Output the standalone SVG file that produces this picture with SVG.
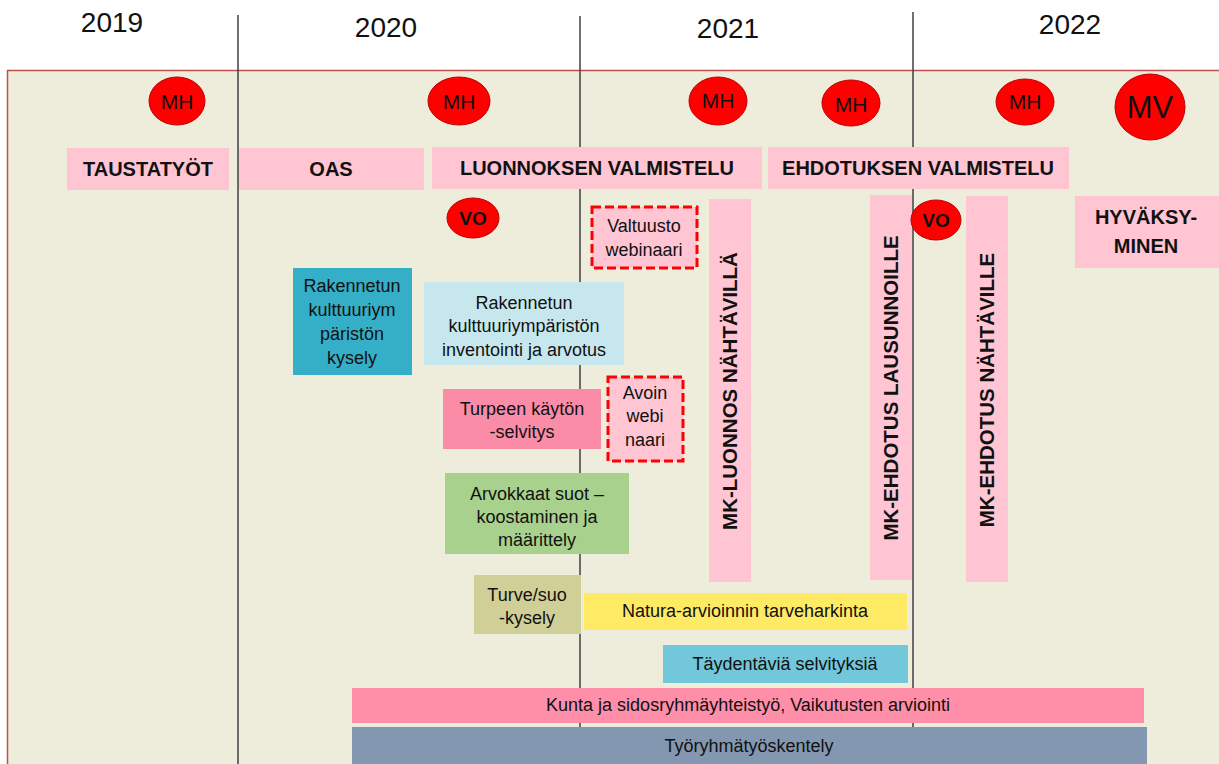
<svg xmlns="http://www.w3.org/2000/svg" width="1219" height="764" viewBox="0 0 1219 764">
<style>
.yr{font-family:"Liberation Sans",Arial,sans-serif;font-size:28px;fill:#111;text-anchor:middle}
.hd{font-family:"Liberation Sans",Arial,sans-serif;font-size:20px;font-weight:bold;fill:#111;text-anchor:middle}
.vt{font-family:"Liberation Sans",Arial,sans-serif;font-size:20.5px;font-weight:bold;fill:#111;text-anchor:middle}
.tx{font-family:"Liberation Sans",Arial,sans-serif;font-size:18px;fill:#111;text-anchor:middle}
.ci{font-family:"Liberation Sans",Arial,sans-serif;font-size:21px;fill:#111;text-anchor:middle}
.vo{font-family:"Liberation Sans",Arial,sans-serif;font-size:19px;font-weight:bold;fill:#111;text-anchor:middle}
.pink{fill:#ffc5d3}
.red{fill:#ff0000;stroke:#c00000;stroke-width:1}
.dash{fill:#ffc5d3;stroke:#ff0000;stroke-width:3;stroke-dasharray:9 4}
.yl{stroke:#404040;stroke-width:1.5}
</style>
<rect width="1219" height="764" fill="#ffffff"/>
<rect x="7.5" y="70.5" width="1220" height="710" fill="#eeecdb" stroke="#c0504d" stroke-width="1.5"/>
<g id="years">
<text class="yr" x="112" y="32">2019</text>
<text class="yr" x="386" y="37">2020</text>
<text class="yr" x="728" y="38">2021</text>
<text class="yr" x="1070" y="34">2022</text>
</g>
<g id="connectors">
<line class="yl" x1="238" y1="15" x2="238" y2="764"/>
<line class="yl" x1="580" y1="16" x2="580" y2="764"/>
<line class="yl" x1="913" y1="12" x2="913" y2="764"/>
</g>
<g id="mh1"><ellipse class="red" cx="177" cy="101" rx="28" ry="24"/><text class="ci" x="177" y="109">MH</text></g>
<g id="mh2"><ellipse class="red" cx="459" cy="101" rx="31" ry="24"/><text class="ci" x="459" y="109">MH</text></g>
<g id="mh3"><ellipse class="red" cx="718" cy="101" rx="29" ry="24"/><text class="ci" x="718" y="108">MH</text></g>
<g id="mh4"><ellipse class="red" cx="851" cy="103" rx="29" ry="23"/><text class="ci" x="851" y="112">MH</text></g>
<g id="mh5"><ellipse class="red" cx="1025" cy="102" rx="29" ry="23"/><text class="ci" x="1025" y="109">MH</text></g>
<g id="mv"><ellipse class="red" cx="1150" cy="107" rx="35" ry="33"/><text class="ci" x="1150" y="118" style="font-size:31px">MV</text></g>
<g id="taustatyot"><rect class="pink" x="67" y="148" width="162" height="42"/><text class="hd" x="148" y="176">TAUSTATYÖT</text></g>
<g id="oas"><rect class="pink" x="239" y="148" width="185" height="42"/><text class="hd" x="331" y="176">OAS</text></g>
<g id="luonnos"><rect class="pink" x="432" y="147" width="330" height="42"/><text class="hd" x="597" y="175">LUONNOKSEN VALMISTELU</text></g>
<g id="ehdotus"><rect class="pink" x="768" y="147" width="301" height="42"/><text class="hd" x="918" y="175">EHDOTUKSEN VALMISTELU</text></g>
<g id="hyvaksyminen"><rect class="pink" x="1075" y="196" width="150" height="72"/><text class="hd" x="1146" y="224">HYVÄKSY-</text><text class="hd" x="1146" y="253">MINEN</text></g>
<g id="vo1"><ellipse class="red" cx="473" cy="218" rx="26" ry="20"/><text class="vo" x="473" y="225">VO</text></g>
<g id="valtuusto"><rect class="dash" x="592" y="207" width="105" height="61"/><text class="tx" x="644" y="232">Valtuusto</text><text class="tx" x="644" y="256">webinaari</text></g>
<g id="mk-luonnos"><rect class="pink" x="709" y="199" width="42" height="383"/><text class="vt" transform="translate(737 391) rotate(-90)">MK-LUONNOS NÄHTÄVILLÄ</text></g>
<g id="mk-lausunnoille"><rect class="pink" x="870" y="195" width="42" height="385"/><text class="vt" transform="translate(898 388) rotate(-90)">MK-EHDOTUS LAUSUNNOILLE</text></g>
<g id="vo2"><ellipse class="red" cx="936" cy="220" rx="25" ry="20"/><text class="vo" x="936" y="227">VO</text></g>
<g id="mk-nahtaville"><rect class="pink" x="966" y="196" width="42" height="386"/><text class="vt" transform="translate(994 390) rotate(-90)">MK-EHDOTUS NÄHTÄVILLE</text></g>
<g id="kysely"><rect x="293" y="268" width="119" height="107" fill="#35afc7"/><text class="tx" x="352" y="292">Rakennetun</text><text class="tx" x="352" y="316">kulttuuriym</text><text class="tx" x="352" y="340">päristön</text><text class="tx" x="352" y="364">kysely</text></g>
<g id="inventointi"><rect x="424" y="282" width="200" height="83" fill="#c7e7ef"/><text class="tx" x="524" y="309">Rakennetun</text><text class="tx" x="524" y="332">kulttuuriympäristön</text><text class="tx" x="524" y="356">inventointi ja arvotus</text></g>
<g id="turpeen"><rect x="443" y="389" width="158" height="60" fill="#fb8ca8"/><text class="tx" x="522" y="415">Turpeen käytön</text><text class="tx" x="522" y="438">-selvitys</text></g>
<g id="avoin"><rect class="dash" x="608" y="377" width="75" height="84"/><text class="tx" x="645" y="399">Avoin</text><text class="tx" x="645" y="422">webi</text><text class="tx" x="645" y="446">naari</text></g>
<g id="arvokkaat"><rect x="445" y="473" width="184" height="81" fill="#a8d18d"/><text class="tx" x="537" y="500">Arvokkaat suot –</text><text class="tx" x="537" y="523">koostaminen ja</text><text class="tx" x="537" y="546">määrittely</text></g>
<g id="turve"><rect x="474" y="575" width="107" height="59" fill="#d0cf97"/><text class="tx" x="527" y="601">Turve/suo</text><text class="tx" x="527" y="624">-kysely</text></g>
<g id="natura"><rect x="584" y="593" width="323" height="37" fill="#ffea66"/><text class="tx" x="745" y="617">Natura-arvioinnin tarveharkinta</text></g>
<g id="taydentavia"><rect x="663" y="645" width="245" height="38" fill="#72c7da"/><text class="tx" x="785" y="670">Täydentäviä selvityksiä</text></g>
<g id="kunta"><rect x="352" y="688" width="792" height="35" fill="#ff8ea9"/><text class="tx" x="748" y="711">Kunta ja sidosryhmäyhteistyö, Vaikutusten arviointi</text></g>
<g id="tyoryhma"><rect x="352" y="727" width="795" height="40" fill="#8497b0"/><text class="tx" x="749" y="752">Työryhmätyöskentely</text></g>
</svg>
